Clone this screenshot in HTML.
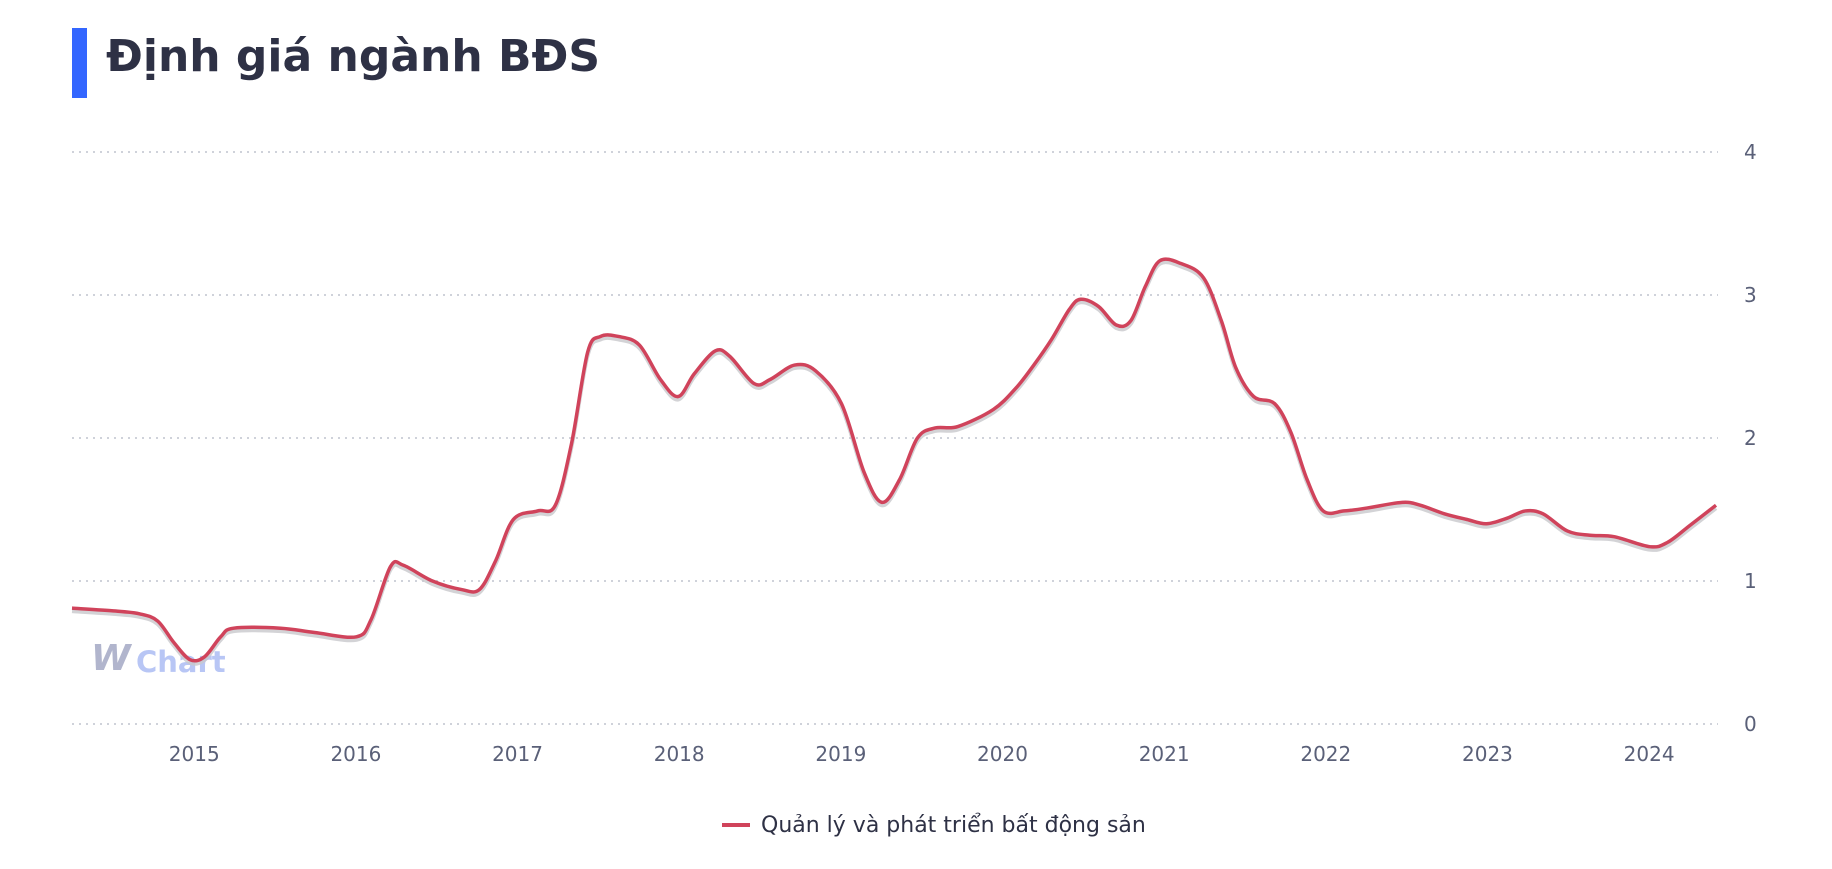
<!DOCTYPE html>
<html><head><meta charset="utf-8">
<style>
html,body{margin:0;padding:0;background:#fff;width:1832px;height:869px;overflow:hidden;font-family:"Liberation Sans","DejaVu Sans",sans-serif;}
</style></head>
<body>
<svg id="chart" width="1832" height="869" viewBox="0 0 1832 869" xmlns="http://www.w3.org/2000/svg">
  <rect x="72" y="28" width="15" height="70" fill="#3366ff"/>
  <text x="106" y="71" font-family="DejaVu Sans, sans-serif" font-weight="bold" font-size="44" fill="#2e3145">Định giá ngành BĐS</text>
  <g id="grid"></g>
  <g id="yticks"></g>
  <g id="xticks"></g>
  <text x="91" y="670" font-family="DejaVu Sans, sans-serif" font-weight="bold" font-style="italic" font-size="36" fill="#a9aec8" opacity="0.9">W</text>
  <text x="136" y="672" font-family="DejaVu Sans, sans-serif" font-weight="bold" font-size="29" fill="#b8c6f5">Chart</text>
  <g id="series"></g>
  <line x1="722" y1="825" x2="750" y2="825" stroke="#d0435b" stroke-width="4"/>
  <text x="761" y="832" font-family="DejaVu Sans, sans-serif" font-size="22" fill="#2e3145">Quản lý và phát triển bất động sản</text>
</svg>
<script>
const dates=[2014.25,2014.52,2014.67,2014.78,2014.88,2014.98,2015.07,2015.17,2015.25,2015.54,2015.75,2016.01,2016.10,2016.22,2016.30,2016.48,2016.66,2016.77,2016.87,2016.98,2017.13,2017.24,2017.34,2017.44,2017.52,2017.63,2017.76,2017.89,2018.00,2018.10,2018.23,2018.32,2018.47,2018.57,2018.72,2018.85,2019.01,2019.15,2019.26,2019.37,2019.48,2019.59,2019.73,2019.95,2020.09,2020.20,2020.31,2020.42,2020.49,2020.60,2020.71,2020.80,2020.89,2020.98,2021.11,2021.25,2021.36,2021.45,2021.56,2021.69,2021.79,2021.89,2021.99,2022.12,2022.26,2022.48,2022.59,2022.74,2022.88,2023.00,2023.13,2023.24,2023.35,2023.50,2023.64,2023.79,2024.01,2024.12,2024.26,2024.42];
const values=[0.81,0.79,0.77,0.72,0.57,0.45,0.47,0.61,0.67,0.67,0.64,0.61,0.73,1.10,1.11,1.00,0.94,0.94,1.14,1.43,1.49,1.53,1.96,2.60,2.71,2.71,2.65,2.41,2.29,2.45,2.61,2.57,2.38,2.41,2.51,2.47,2.24,1.76,1.55,1.71,2.00,2.07,2.08,2.20,2.35,2.51,2.69,2.90,2.97,2.92,2.79,2.82,3.06,3.24,3.22,3.12,2.82,2.49,2.29,2.24,2.04,1.71,1.49,1.49,1.51,1.55,1.53,1.47,1.43,1.40,1.44,1.49,1.47,1.35,1.32,1.31,1.24,1.27,1.39,1.53];
const yTicks=[0,1,2,3,4];
const xTicks=[2015,2016,2017,2018,2019,2020,2021,2022,2023,2024];

const NS="http://www.w3.org/2000/svg";
const xMin=2014.25,xMax=2024.42,px0=72,px1=1716;
const X=d=>px0+(d-xMin)/(xMax-xMin)*(px1-px0);
const Y=v=>724-v*(724-152)/4;
function mk(tag,attrs,parent){const e=document.createElementNS(NS,tag);for(const k in attrs)e.setAttribute(k,attrs[k]);parent.appendChild(e);return e;}

const grid=document.getElementById('grid'),yt=document.getElementById('yticks'),xt=document.getElementById('xticks'),ser=document.getElementById('series');
yTicks.forEach(t=>{
  const l=mk('line',{x1:72,x2:1718,y1:Y(t),y2:Y(t),stroke:'#cfd2da','stroke-width':2,'stroke-dasharray':'2 5'},grid);
  
  
  const tx=mk('text',{x:1744,y:Y(t)+7,'font-size':20,fill:'#5a6078','font-family':'DejaVu Sans, sans-serif'},yt);
  tx.textContent=t;
  
  
});
xTicks.forEach(t=>{
  const tx=mk('text',{x:X(t)+1,y:761,'font-size':20,fill:'#5a6078','text-anchor':'middle','font-family':'DejaVu Sans, sans-serif'},xt);
  tx.textContent=t;
  
  
});
const pts=dates.map((d,i)=>[X(d),Y(values[i])]);
function path(p,dy){let s='M'+p[0][0]+','+(p[0][1]+dy);
  for(let i=0;i<p.length-1;i++){const p0=p[Math.max(0,i-1)],p1=p[i],p2=p[i+1],p3=p[Math.min(p.length-1,i+2)];const k=6;
    s+=' C'+(p1[0]+(p2[0]-p0[0])/k)+','+(p1[1]+(p2[1]-p0[1])/k+dy)+' '+(p2[0]-(p3[0]-p1[0])/k)+','+(p2[1]-(p3[1]-p1[1])/k+dy)+' '+p2[0]+','+(p2[1]+dy);}
  return s;}
const sh=mk('path',{d:path(pts,3),fill:'none',stroke:'#c8c8cc','stroke-width':4,opacity:0.8},ser);


const ln=mk('path',{d:path(pts,0),fill:'none',stroke:'#d0435b','stroke-width':3.5,'stroke-linejoin':'round'},ser);


</script>
</body></html>
